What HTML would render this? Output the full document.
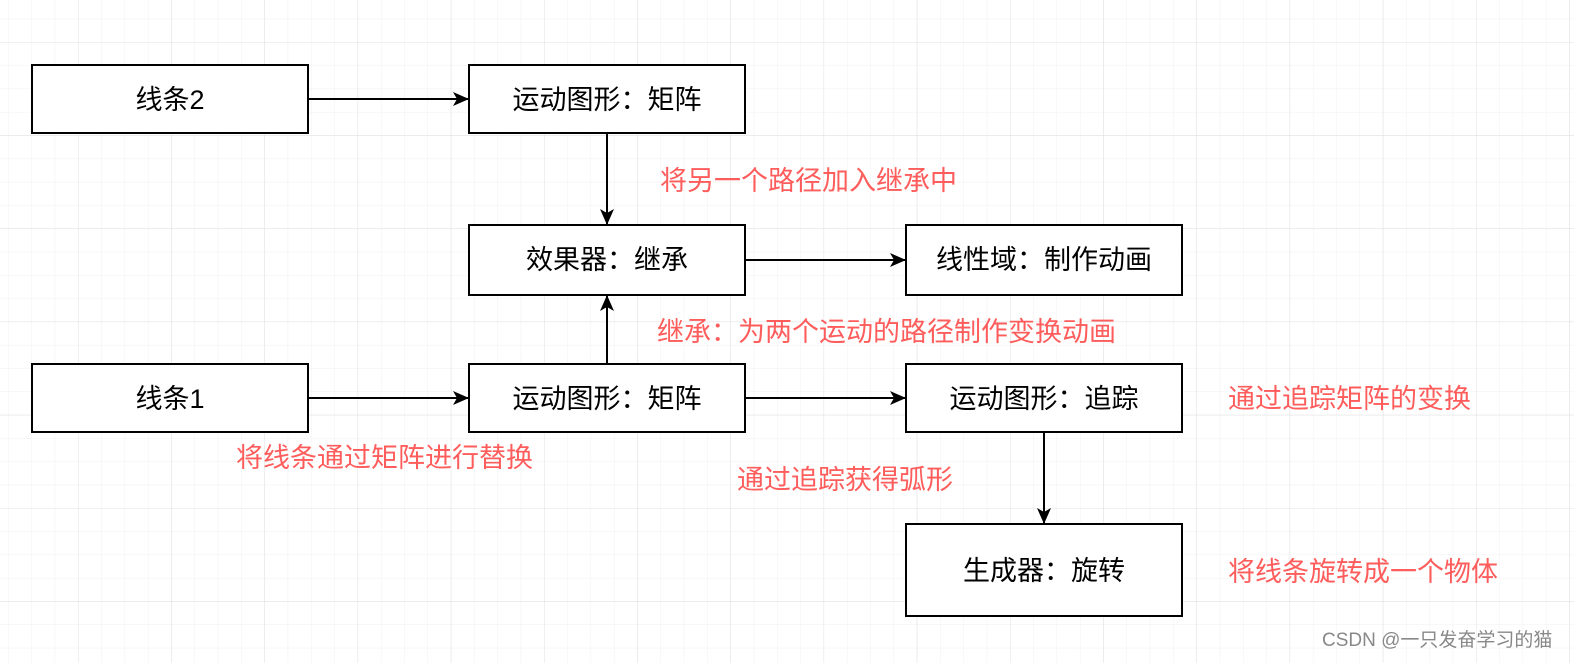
<!DOCTYPE html>
<html><head><meta charset="utf-8"><style>
body{margin:0;width:1574px;height:663px;overflow:hidden;background:#fff}
svg{display:block}
text{font-family:"Liberation Sans","Noto Sans CJK SC",sans-serif}
</style></head><body>
<svg width="1574" height="663" xmlns="http://www.w3.org/2000/svg">
<defs>
<pattern id="minor" x="8.1" y="18.7" width="23.3" height="23.3" patternUnits="userSpaceOnUse">
<path d="M0 0H23.3M0 0V23.3" stroke="#f0f0f0" stroke-width="1" fill="none"/>
</pattern>
<pattern id="major" x="78" y="42" width="93.2" height="93.2" patternUnits="userSpaceOnUse">
<path d="M0 0H93.2M0 0V93.2" stroke="#e0e0e0" stroke-width="1" fill="none"/>
</pattern>
<marker id="a" markerWidth="16" markerHeight="16" refX="15" refY="8" orient="auto" markerUnits="userSpaceOnUse" viewBox="0 0 16 16">
<path d="M0 1L16 8L0 15L4 8Z" fill="#000"/>
</marker>
</defs>
<rect width="1574" height="663" fill="url(#minor)"/>
<rect width="1574" height="663" fill="url(#major)"/>
<g fill="#fff" stroke="#000" stroke-width="2">
<rect x="32" y="65" width="276" height="68"/>
<rect x="469" y="65" width="276" height="68"/>
<rect x="469" y="225" width="276" height="70"/>
<rect x="906" y="225" width="276" height="70"/>
<rect x="32" y="364" width="276" height="68"/>
<rect x="469" y="364" width="276" height="68"/>
<rect x="906" y="364" width="276" height="68"/>
<rect x="906" y="524" width="276" height="92"/>
</g>
<g stroke="#000" stroke-width="2" marker-end="url(#a)" fill="none">
<path d="M309 99H468"/>
<path d="M607 134V224"/>
<path d="M746 260H905"/>
<path d="M607 363V296"/>
<path d="M309 398H468"/>
<path d="M746 398H905"/>
<path d="M1044 433V523"/>
</g>
<g font-size="27" text-anchor="middle" fill="#000">
<text x="170" y="109">线条2</text>
<text x="607" y="109">运动图形：矩阵</text>
<text x="607" y="269">效果器：继承</text>
<text x="1044" y="269">线性域：制作动画</text>
<text x="170" y="408">线条1</text>
<text x="607" y="408">运动图形：矩阵</text>
<text x="1044" y="408">运动图形：追踪</text>
<text x="1044" y="580">生成器：旋转</text>
</g>
<g font-size="27" fill="#ff5c5c">
<text x="660" y="190">将另一个路径加入继承中</text>
<text x="657" y="341">继承：为两个运动的路径制作变换动画</text>
<text x="236" y="467">将线条通过矩阵进行替换</text>
<text x="737" y="489">通过追踪获得弧形</text>
<text x="1228" y="408">通过追踪矩阵的变换</text>
<text x="1228" y="581">将线条旋转成一个物体</text>
</g>
<text x="1322" y="646" font-size="19" fill="#888">CSDN @一只发奋学习的猫</text>
</svg>
</body></html>
